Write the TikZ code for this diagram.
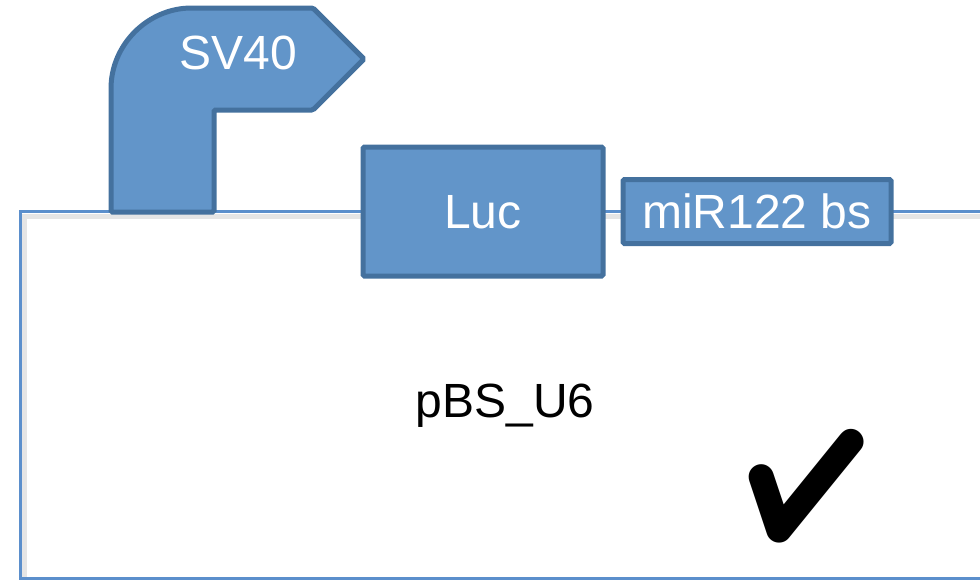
\documentclass[tikz,border=0pt]{standalone}
\usepackage{fontspec}
\setmainfont{Liberation Sans}
\newfontfamily\symfont{Noto Emoji}
\usetikzlibrary{positioning, calc}

\definecolor{partfill}{RGB}{98,149,201}
\definecolor{partdraw}{RGB}{68,113,158}
\definecolor{backbone}{RGB}{91,143,204}

\begin{document}
\begin{tikzpicture}[x=1pt, y=-1pt,
% Define a custom style for the gene parts
    part/.style={
        draw=partdraw,
        fill=partfill,
        line width=5pt,
        rounded corners=1.5pt,
        inner sep=0pt,
        outer sep=0pt,
        text=white,
        font=\fontsize{48}{58}\selectfont
        },
    plasmid/.style={draw=backbone, line width=3pt},
    bigtext/.style={font=\fontsize{48}{58}\selectfont}
]
\useasboundingbox (0,0) rectangle (980,581);

\coordinate (tr) at (990,211);
\coordinate (tl) at (20,211);
\coordinate (bl) at (20,578);
\coordinate (br) at (990,578);

% soft shadow of the backbone
\draw[black!10, line width=5pt] ($(tr)+(0,5)$) -- ($(tl)+(4,5)$) -- ($(bl)+(4,0)$);
\draw[plasmid] (tr) -- (tl) -- (bl) -- (br);

% promoter arrow
\draw[part] (111,212) -- (111,90) arc[start angle=180, end angle=270, radius=82]
    -- (313,8) -- (364,59) -- (313,110) -- (214,110) -- (214,212) -- cycle;
\node[text=white, bigtext] (sv40) at (238,53) {SV40};

\node[part, minimum width=240pt, minimum height=129pt, text depth=-4pt] (luc) at (483,211.5) {Luc};
\node[part, minimum width=268pt, minimum height=64pt, text depth=-4pt, right=20pt of luc] (mir) {miR122 bs};

\node[bigtext, anchor=base] (vec) at (505,417) {pBS\_U6};

\node[font=\symfont\fontsize{112}{112}\selectfont, inner sep=0pt] (check) at (807,486) {✔};

\end{tikzpicture}
\end{document}
